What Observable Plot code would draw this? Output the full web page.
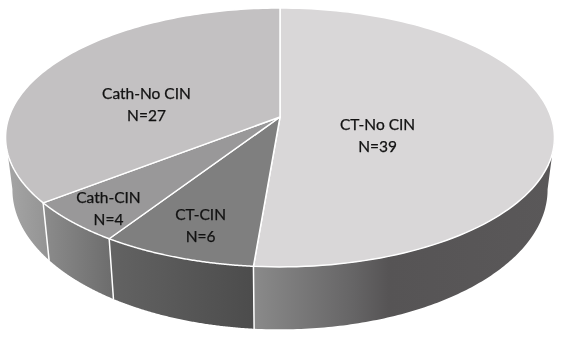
<!DOCTYPE html>
<html>
<head>
<meta charset="utf-8">
<script src="https://cdn.jsdelivr.net/npm/d3@7"></script>
<script src="https://cdn.jsdelivr.net/npm/@observablehq/plot@0.6"></script>
<style>html,body{margin:0;padding:0;background:#fff}svg{display:block}</style>
</head>
<body>
<div id="chart"></div>
<script>
// Data
const categories = ["CT-No CIN", "CT-CIN", "Cath-CIN", "Cath-No CIN"];
const counts = [39, 6, 4, 27];

// Styling, kept apart from the data
const topColors = ["#d9d7d8", "#7f7f7f", "#999899", "#c3c1c2"];
const wallStops = [
  [[0, "#8a8a8a"], [0.33, "#666566"], [0.45, "#565455"], [1, "#5a5859"]],
  [[0, "#636363"], [1, "#4c4c4c"]],
  [[0, "#8c8c8c"], [1, "#6c6c6c"]],
  [[0, "#a6a6a6"], [1, "#939393"]]
];
const labelAnchors = [[0.36, -0.135], [-0.293, -0.85], [-0.633, -0.715], [-0.4926, 0.115]];

// 3D view of the disc
const persp = 0.158;
const toTop = (a) => {
  const u = Math.sin(a), v = Math.cos(a), s = 1 / (1 + persp * v);
  return [u * s, v * s];
};
const toBottom = (a) => {
  const [X, Y] = toTop(a);
  return [0.975 * X, 1.08 * Y - 0.4];
};

const total = d3.sum(counts);
let acc = 0;
const slices = counts.map((c, i) => {
  const a0 = acc / total * 2 * Math.PI;
  acc += c;
  return {i, name: categories[i], n: c, a0, a1: acc / total * 2 * Math.PI};
});
const arc = (a0, a1) => d3.range(0, 121).map(k => a0 + (a1 - a0) * k / 120);

const toPoint = (p, key) => ({X: p[0], Y: p[1], key});
const topRows = slices.flatMap(s => {
  const pts = [[0, 0], ...arc(s.a0, s.a1).map(a => toTop(a)), [0, 0]];
  return pts.map(p => toPoint(p, s.i));
});

// visible arc of the outer wall for each slice
const rad = d => d * Math.PI / 180;
const visibleFrom = rad(99), visibleTo = rad(261);
const wallRows = slices.flatMap(s => {
  const a0 = Math.max(s.a0, visibleFrom), a1 = Math.min(s.a1, visibleTo);
  if (a1 <= a0) return [];
  const as = arc(a0, a1);
  const pts = [...as.map(a => toTop(a)), ...as.slice().reverse().map(a => toBottom(a))];
  pts.push(pts[0]);
  return pts.map(p => toPoint(p, s.i));
});
const edgeRows = slices
  .filter(s => s.a1 > visibleFrom && s.a1 < visibleTo)
  .flatMap(s => [toPoint(toTop(s.a1), s.i), toPoint(toBottom(s.a1), s.i)]);

const labels = slices.map((s, i) => ({
  text: `${s.name}\nN=${s.n}`, X: labelAnchors[i][0], Y: labelAnchors[i][1]
}));

const defs = () => {
  const d = d3.create("svg:defs");
  wallStops.forEach((stops, i) => {
    const g = d.append("linearGradient").attr("id", `wall${i}`)
      .attr("x1", 0).attr("x2", 1).attr("y1", 0).attr("y2", 0);
    stops.forEach(([o, c]) => g.append("stop").attr("offset", o).attr("stop-color", c));
  });
  return d.node();
};

const plot = Plot.plot({
  width: 561,
  height: 339,
  margin: 0,
  axis: null,
  style: {background: "#fff", filter: "blur(0.35px)"},
  x: {domain: [-1, 1], range: [8.5, 550.5]},
  y: {domain: [-1, 1], range: [242.7, -9.7]},
  marks: [
    defs,
    Plot.line(wallRows, {x: "X", y: "Y", z: "key", curve: "linear",
      fill: d => `url(#wall${d.key})`, stroke: "none"}),
    Plot.line(edgeRows, {x: "X", y: "Y", z: "key", stroke: "#fff", strokeWidth: 1.5}),
    Plot.line(topRows, {x: "X", y: "Y", z: "key", curve: "linear",
      fill: d => topColors[d.key], stroke: "#fff", strokeWidth: 1.5, strokeLinejoin: "round"}),
    Plot.text(labels, {x: "X", y: "Y", text: "text", fontFamily: "Lato", fontSize: 15.5,
      lineHeight: 1.42, fill: "#111", stroke: "#111", strokeWidth: 0.25, textAnchor: "middle"})
  ]
});
document.getElementById("chart").append(plot);
</script>
</body>
</html>
